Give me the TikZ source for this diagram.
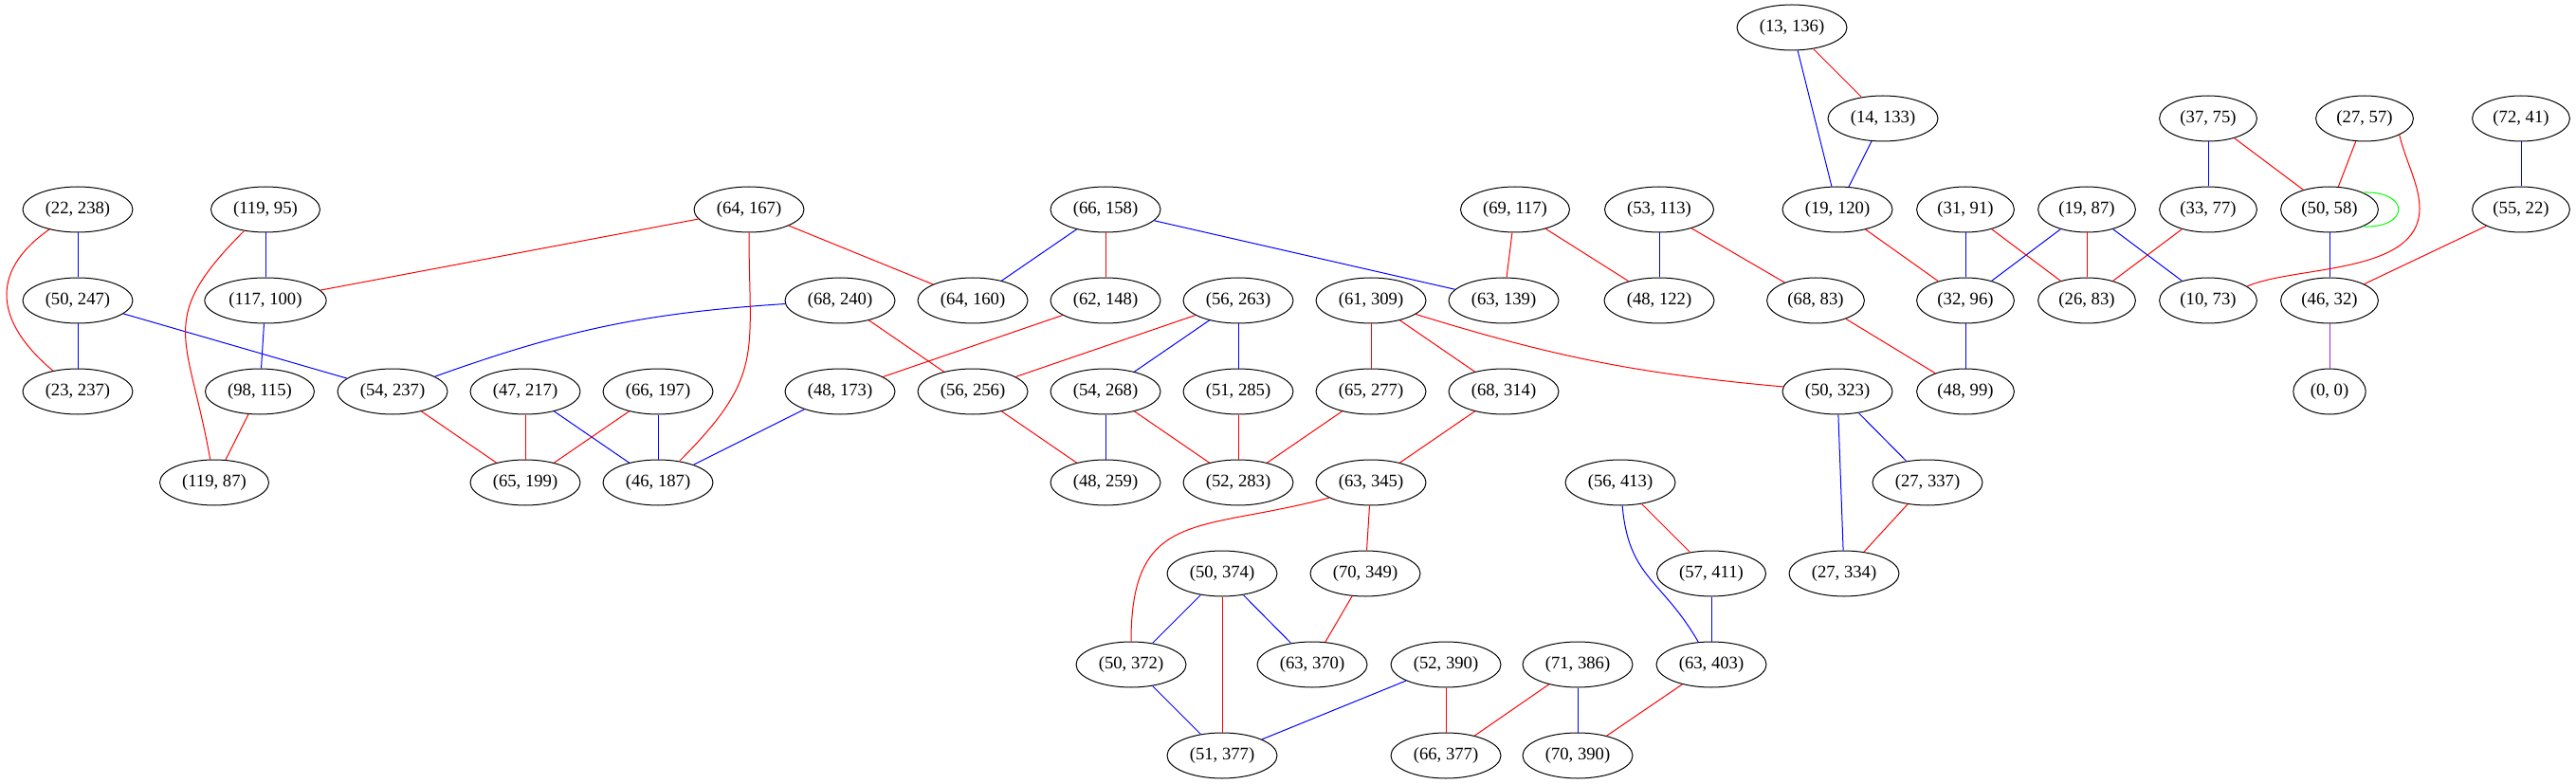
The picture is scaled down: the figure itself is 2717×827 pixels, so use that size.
\documentclass[tikz,border=0pt]{standalone}
\usepackage{fontspec}
\setmainfont{Liberation Serif}
\usetikzlibrary{shapes.geometric}
\definecolor{gvgreen}{RGB}{0,255,0}
\definecolor{gvpurple}{RGB}{160,32,240}
\tikzset{
  pt/.style={draw,ellipse,line width=.75pt,inner xsep=5.1pt,inner ysep=2pt,
    minimum height=36pt,font=\fontsize{14}{16}\selectfont},
  rl/.style={red,line width=.75pt},
  bl/.style={blue,line width=.75pt}}
\begin{document}
\begin{tikzpicture}[x=.75pt,y=-.75pt,line join=round]
  \useasboundingbox (0,0) rectangle (2717,827);
  % points, one rank per row
  \foreach \px/\py/\a/\b in {1890/29/13/136,
      1986/125/14/133, 2329/125/37/75, 2494/125/27/57, 2659/125/72/41,
      82/221/22/238, 280/221/119/95, 790/221/64/167, 1166/221/66/158,
      1598/221/69/117, 1750/221/53/113, 1938/221/19/120, 2073/221/31/91,
      2201/221/19/87, 2329/221/33/77, 2457/221/50/58, 2659/221/55/22,
      82/317/50/247, 280/317/117/100, 886/317/68/240, 1026/317/64/160,
      1166/317/62/148, 1306/317/56/263, 1446/317/61/309, 1586/317/63/139,
      1750/317/48/122, 1915/317/68/83, 2073/317/32/96, 2201/317/26/83,
      2329/317/10/73, 2457/317/46/32,
      82/413/23/237, 274/413/98/115, 414/413/54/237, 554/413/47/217,
      694/413/66/197, 886/413/48/173, 1026/413/56/256, 1166/413/54/268,
      1306/413/51/285, 1446/413/65/277, 1586/413/68/314, 1938/413/50/323,
      2073/413/48/99, 2457/413/0/0,
      226/509/119/87, 554/509/65/199, 694/509/46/187, 1166/509/48/259,
      1306/509/52/283, 1446/509/63/345, 1709/509/56/413, 2033/509/27/337,
      1289/605/50/374, 1440/605/70/349, 1805/605/57/411, 1945/605/27/334,
      1193/701/50/372, 1384/701/63/370, 1525/701/52/390, 1664/701/71/386,
      1805/701/63/403,
      1289/797/51/377, 1525/797/66/377, 1664/797/70/390}
    \node[pt] (n\a-\b) at (\px,\py) {(\a, \b)};
  % blue links
  \foreach \s/\t in {22-238/50-247, 50-247/23-237, 119-95/117-100,
      117-100/98-115, 50-247/54-237, 47-217/46-187, 66-197/46-187,
      48-173/46-187, 66-158/64-160, 66-158/63-139, 56-263/54-268,
      56-263/51-285, 54-268/48-259, 53-113/48-122, 13-136/19-120,
      14-133/19-120, 31-91/32-96, 19-87/32-96, 19-87/10-73, 37-75/33-77,
      50-58/46-32, 72-41/55-22, 32-96/48-99, 50-323/27-334, 50-323/27-337,
      50-374/50-372, 50-374/63-370, 50-372/51-377, 52-390/51-377,
      71-386/70-390, 57-411/63-403}
    \draw[bl] (n\s) -- (n\t);
  % red links
  \foreach \s/\t in {98-115/119-87, 64-167/117-100, 64-167/64-160,
      68-240/56-256, 54-237/65-199, 47-217/65-199, 66-197/65-199,
      66-158/62-148, 62-148/48-173, 56-263/56-256, 56-256/48-259,
      54-268/52-283, 51-285/52-283, 61-309/65-277, 61-309/68-314,
      65-277/52-283, 68-314/63-345, 69-117/63-139, 69-117/48-122,
      53-113/68-83, 68-83/48-99, 13-136/14-133, 19-120/32-96, 31-91/26-83,
      19-87/26-83, 33-77/26-83, 37-75/50-58, 27-57/50-58, 55-22/46-32,
      27-337/27-334, 63-345/70-349, 50-374/51-377, 70-349/63-370,
      52-390/66-377, 71-386/66-377, 56-413/57-411, 63-403/70-390}
    \draw[rl] (n\s) -- (n\t);
  % curved ones
  \draw[bl] (n68-240) to[bend right=8] (n54-237);
  \draw[bl] (n56-413) to[out=-85,in=120,looseness=1.2] (n63-403);
  \draw[rl] (n22-238) to[out=215,in=140,looseness=1.35] (n23-237);
  \draw[rl] (n119-95) to[out=225,in=100,looseness=1.4] (n119-87);
  \draw[rl] (n64-167) to[out=-90,in=45,looseness=1.3] (n46-187);
  \draw[rl] (n61-309) to[bend right=6] (n50-323);
  \draw[rl] (n63-345.200) to[out=195,in=90,looseness=1.4] (n50-372);
  \draw[rl] (n27-57.south east) .. controls (2538,172) and (2552,195) .. (2552,220)
    .. controls (2552,290) and (2420,280) .. (n10-73.20);
  \draw[gvgreen,line width=.75pt] (n50-58.27) .. controls +(50,-2) and +(50,2) .. (n50-58.-27);
  \draw[gvpurple,line width=.75pt] (n46-32) -- (n0-0);
\end{tikzpicture}
\end{document}
